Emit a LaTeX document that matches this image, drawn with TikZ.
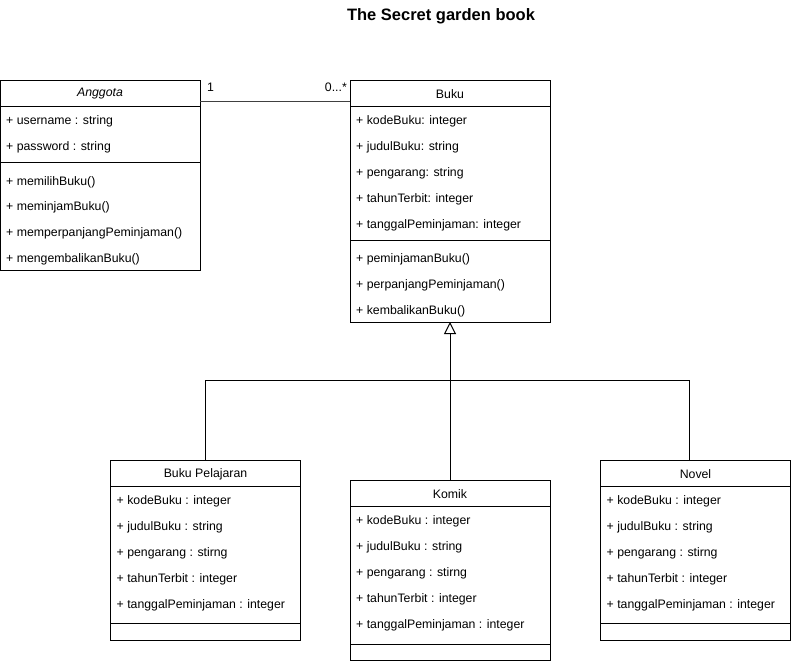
\documentclass[tikz,border=0pt]{standalone}
\usepackage{fontspec}
\setmainfont{Liberation Sans}
\usetikzlibrary{arrows.meta}
\tikzset{
  classbox/.style={draw, line width=1pt, inner sep=0pt, outer sep=0pt, anchor=north west},
  member/.style={anchor=west, inner sep=0pt, yshift=-1pt, font=\fontsize{12.3}{14}\selectfont},
  classname/.style={inner sep=0pt, font=\fontsize{12.3}{14}\selectfont},
  mult/.style={inner sep=0pt, font=\fontsize{12.3}{14}\selectfont},
  inherit/.style={line width=1pt, -{Triangle[open, length=12pt, width=12pt]}},
}
\begin{document}
\begin{tikzpicture}[x=1pt, y=-1pt]
    \useasboundingbox (0,0) rectangle (791,661);
    \node[font=\bfseries\fontsize{16.5}{19}\selectfont] (title) at (441,16) {The Secret garden book};

    % Anggota
    \node[classbox, minimum width=200pt, minimum height=190pt] (anggota) at (0,80) {};
    \draw [line width=1pt] (0,106) -- (200,106);
    \draw [line width=1pt] (0,162.5) -- (200,162.5);
    \node[classname, font=\itshape\fontsize{12.3}{14}\selectfont] (anggota-name) at (100,94) {Anggota};
    \node[member] (anggota-a1) at (6,120) {+ username : string};
    \node[member] (anggota-a2) at (6,146) {+ password : string};
    \node[member] (anggota-m1) at (6,181) {+ memilihBuku()};
    \node[member] (anggota-m2) at (6,206) {+ meminjamBuku()};
    \node[member] (anggota-m3) at (6,232) {+ memperpanjangPeminjaman()};
    \node[member] (anggota-m4) at (6,258) {+ mengembalikanBuku()};

    % Buku
    \node[classbox, minimum width=200pt, minimum height=242pt] (buku) at (350,80) {};
    \draw [line width=1pt] (350,106) -- (550,106);
    \draw [line width=1pt] (350,240) -- (550,240);
    \node[classname] (buku-name) at (450,94) {Buku};
    \node[member] (buku-a1) at (356,120) {+ kodeBuku: integer};
    \node[member] (buku-a2) at (356,146) {+ judulBuku: string};
    \node[member] (buku-a3) at (356,172) {+ pengarang: string};
    \node[member] (buku-a4) at (356,198) {+ tahunTerbit: integer};
    \node[member] (buku-a5) at (356,224) {+ tanggalPeminjaman: integer};
    \node[member] (buku-m1) at (356,258) {+ peminjamanBuku()};
    \node[member] (buku-m2) at (356,284) {+ perpanjangPeminjaman()};
    \node[member] (buku-m3) at (356,310) {+ kembalikanBuku()};

    % Buku Pelajaran
    \node[classbox, minimum width=190pt, minimum height=180pt] (pelajaran) at (110.5,460) {};
    \draw [line width=1pt] (110.5,486) -- (300.5,486);
    \draw [line width=1pt] (110.5,623) -- (300.5,623);
    \node[classname] (pelajaran-name) at (205.5,474) {Buku Pelajaran};
    \node[member] (pelajaran-a1) at (116.5,500) {+ kodeBuku : integer};
    \node[member] (pelajaran-a2) at (116.5,526) {+ judulBuku : string};
    \node[member] (pelajaran-a3) at (116.5,552) {+ pengarang : stirng};
    \node[member] (pelajaran-a4) at (116.5,578) {+ tahunTerbit : integer};
    \node[member] (pelajaran-a5) at (116.5,604) {+ tanggalPeminjaman : integer};

    % Komik
    \node[classbox, minimum width=200pt, minimum height=180pt] (komik) at (350,480) {};
    \draw [line width=1pt] (350,506) -- (550,506);
    \draw [line width=1pt] (350,644) -- (550,644);
    \node[classname] (komik-name) at (450,494) {Komik};
    \node[member] (komik-a1) at (356,520) {+ kodeBuku : integer};
    \node[member] (komik-a2) at (356,546) {+ judulBuku : string};
    \node[member] (komik-a3) at (356,572) {+ pengarang : stirng};
    \node[member] (komik-a4) at (356,598) {+ tahunTerbit : integer};
    \node[member] (komik-a5) at (356,624) {+ tanggalPeminjaman : integer};

    % Novel
    \node[classbox, minimum width=190pt, minimum height=180pt] (novel) at (600.5,460) {};
    \draw [line width=1pt] (600.5,486) -- (790.5,486);
    \draw [line width=1pt] (600.5,623) -- (790.5,623);
    \node[classname] (novel-name) at (695.5,474) {Novel};
    \node[member] (novel-a1) at (606.5,500) {+ kodeBuku : integer};
    \node[member] (novel-a2) at (606.5,526) {+ judulBuku : string};
    \node[member] (novel-a3) at (606.5,552) {+ pengarang : stirng};
    \node[member] (novel-a4) at (606.5,578) {+ tahunTerbit : integer};
    \node[member] (novel-a5) at (606.5,604) {+ tanggalPeminjaman : integer};

    % association
    \draw [line width=1pt, black!75] ([yshift=-21.5pt]anggota.north east) -- ([yshift=-21.5pt]buku.north west);
    \node[mult, anchor=west] (mult-one) at (207,87) {1};
    \node[mult, anchor=east] (mult-many) at (347,87) {0...*};

    % generalization
    \coordinate (bus) at (450,380);
    \draw [inherit] (komik.north) -- (buku.south);
    \draw [line width=1pt] (pelajaran.north) |- (bus);
    \draw [line width=1pt] (bus) -| ([xshift=-6.5pt]novel.north);
\end{tikzpicture}
\end{document}
